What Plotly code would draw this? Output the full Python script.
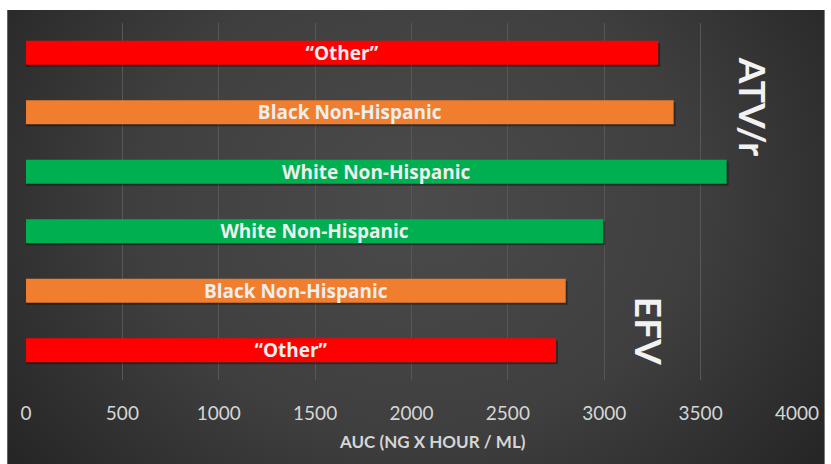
import base64
import plotly.graph_objects as go

# Population groups, listed top to bottom
groups = ["\u201cOther\u201d", "Black Non-Hispanic", "White Non-Hispanic",
          "White Non-Hispanic", "Black Non-Hispanic", "\u201cOther\u201d"]
auc = [3280, 3360, 3635, 2995, 2800, 2750]
bar_colors = ["#ff0000", "#f07e2e", "#00b050", "#00b050", "#f07e2e", "#ff0000"]
x_ticks = [0, 500, 1000, 1500, 2000, 2500, 3000, 3500, 4000]
positions = list(range(len(groups)))

BAR_W = 0.4

# Radial-gradient dark panel behind the chart
svg = (
    '<svg xmlns="http://www.w3.org/2000/svg" width="824" height="454" '
    'preserveAspectRatio="none" viewBox="0 0 824 454">'
    '<defs><radialGradient id="g" cx="0.5" cy="0.42" r="0.62" '
    'gradientTransform="translate(0.5 0.42) scale(1 1.5) translate(-0.5 -0.42)">'
    '<stop offset="0" stop-color="#4b4b4b"/>'
    '<stop offset="0.55" stop-color="#3f3f3f"/>'
    '<stop offset="1" stop-color="#262626"/>'
    '</radialGradient></defs>'
    '<rect width="824" height="454" fill="url(#g)"/></svg>'
)
bg_uri = "data:image/svg+xml;base64," + base64.b64encode(svg.encode()).decode()

fig = go.Figure()

# soft drop shadow under each bar
fig.add_trace(go.Bar(
    x=[v + 10 for v in auc],
    y=positions,
    orientation="h",
    width=BAR_W,
    offset=-BAR_W / 2 + 0.035,
    marker=dict(color="rgba(0,0,0,0.35)", line=dict(width=0)),
    hoverinfo="skip",
))

fig.add_trace(go.Bar(
    x=auc,
    y=positions,
    orientation="h",
    width=BAR_W,
    offset=-BAR_W / 2,
    marker=dict(color=bar_colors, line=dict(width=0)),
    text=groups,
    textposition="inside",
    insidetextanchor="middle",
    constraintext="none",
    textangle=0,
    textfont=dict(family="Open Sans", size=19, color="#eeeeee", weight="bold"),
    hoverinfo="skip",
))

W, H = 831, 464
ml, mr, mt, mb = 26, 28, 23, 84
pw, ph = W - ml - mr, H - mt - mb

fig.update_layout(
    width=W, height=H,
    margin=dict(l=ml, r=mr, t=mt, b=mb, pad=0),
    paper_bgcolor="white",
    plot_bgcolor="rgba(0,0,0,0)",
    showlegend=False,
    barmode="overlay",
    uniformtext=dict(mode="show", minsize=19),
    xaxis=dict(
        range=[0, 4000],
        tickvals=x_ticks,
        ticktext=[str(v) for v in x_ticks],
        showgrid=True, gridcolor="#575757", gridwidth=1,
        zeroline=False, showline=False, ticks="",
        ticklabelstandoff=20,
        tickfont=dict(family="Lato", size=19, color="#d6d6d6"),
    ),
    yaxis=dict(
        range=[len(groups) - 0.5, -0.5],
        showgrid=False, zeroline=False, showticklabels=False, ticks="",
    ),
    images=[dict(
        source=bg_uri, xref="paper", yref="paper",
        x=(7 - ml) / pw, y=(H - mb - 10) / ph,
        sizex=(W - 7) / pw, sizey=(H - 10) / ph,
        sizing="stretch", xanchor="left", yanchor="top", layer="below",
    )],
    annotations=[
        dict(text="AUC (NG X HOUR / ML)", xref="paper", yref="paper",
             x=(436 - ml) / pw, y=(H - mb - 441) / ph,
             xanchor="center", yanchor="middle", showarrow=False,
             font=dict(family="Lato", size=17, color="#d6d6d6", weight="bold")),
        dict(text="ATV/r", xref="paper", yref="paper",
             x=(760 - ml) / pw, y=(H - mb - 107) / ph,
             xanchor="center", yanchor="middle", showarrow=False, textangle=90,
             font=dict(family="Lato", size=37, color="#f2f2f2", weight="bold")),
        dict(text="EFV", xref="paper", yref="paper",
             x=(655 - ml) / pw, y=(H - mb - 331) / ph,
             xanchor="center", yanchor="middle", showarrow=False, textangle=90,
             font=dict(family="Lato", size=37, color="#f2f2f2", weight="bold")),
    ],
)

fig.write_html("out.html")
